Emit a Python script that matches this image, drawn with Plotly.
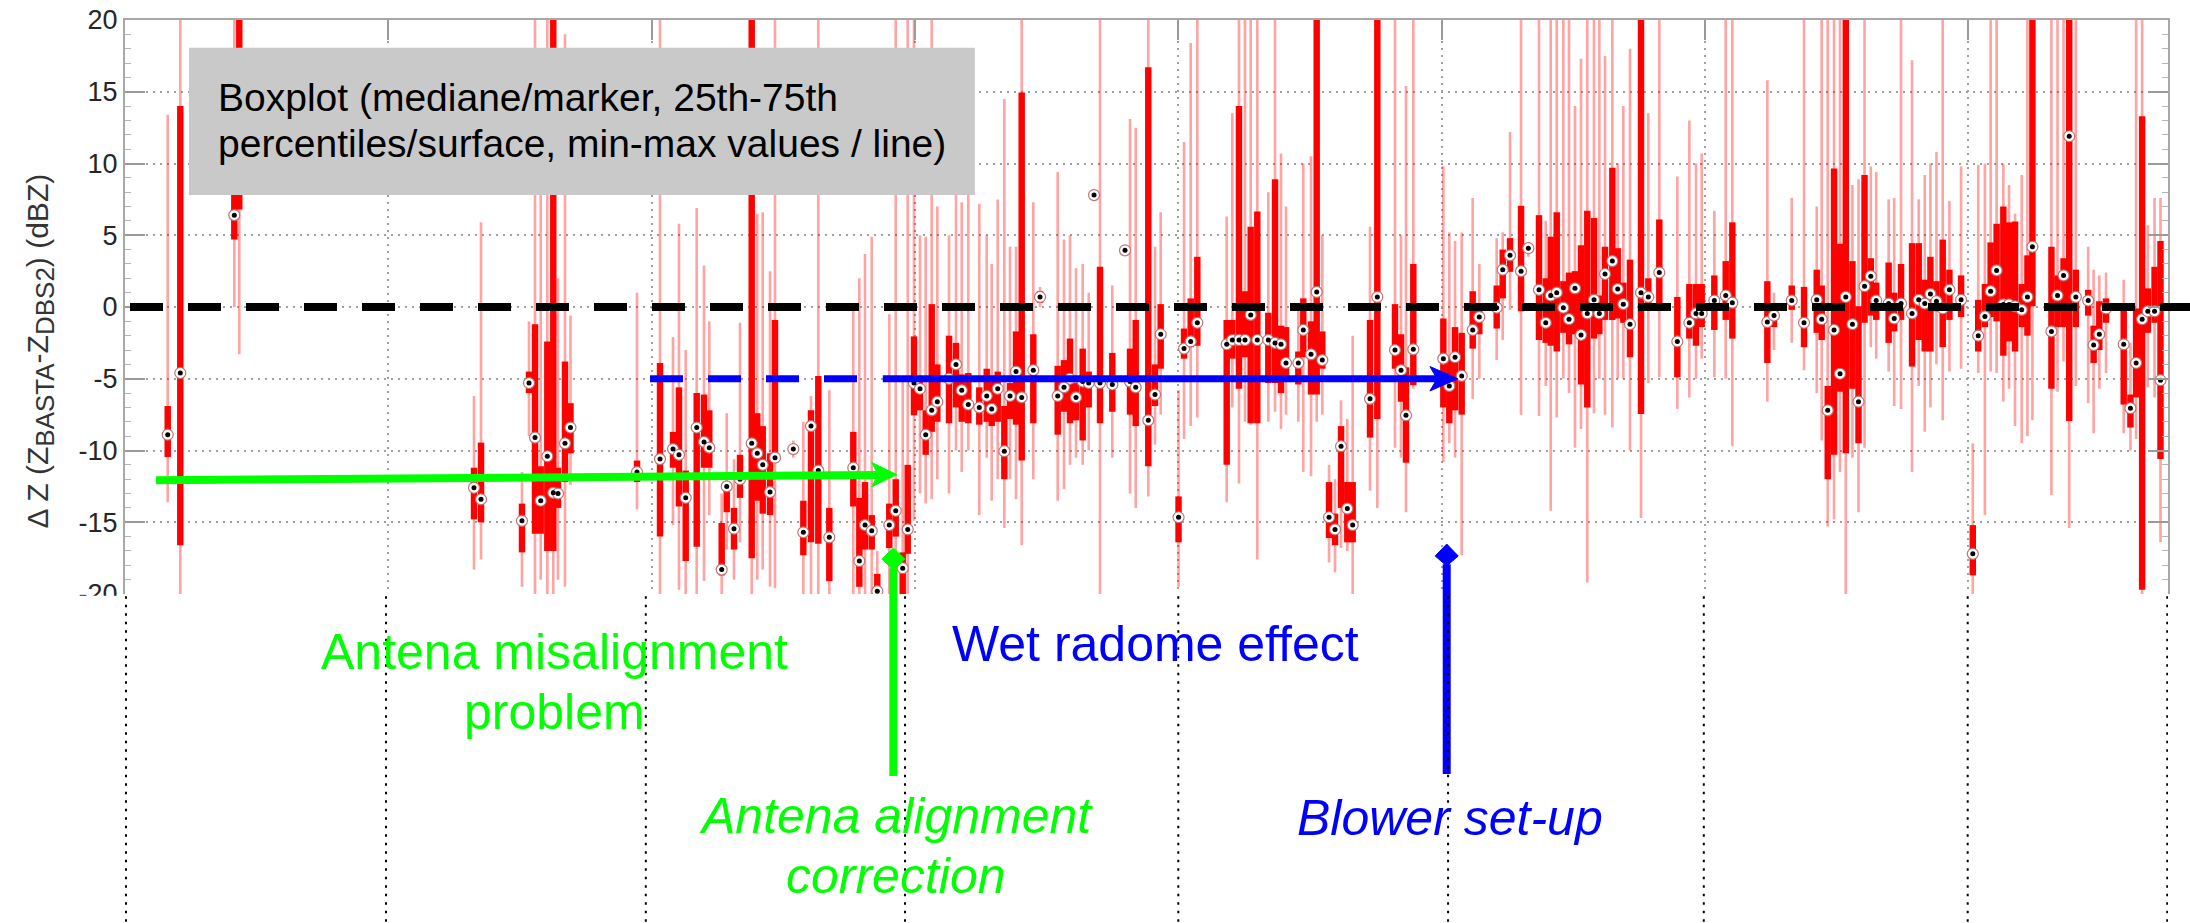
import plotly.graph_objects as go

# ---------------- data (boxplot statistics, dBZ) ----------------
day = [7.30, 9.45, 18.68, 19.53, 59.64, 60.84, 67.84, 69.04, 70.07, 71.04,
       72.17, 73.19, 74.00, 75.19, 76.13, 87.50, 91.43, 93.65, 94.67, 95.82,
       97.70, 98.95, 99.85, 101.97, 102.83, 104.07, 105.10, 107.10, 108.05, 108.98,
       110.23, 111.08, 114.21, 115.92, 117.23, 118.48, 120.36, 124.46, 125.49, 126.46,
       127.61, 128.56, 130.61, 131.71, 132.90, 133.76, 134.83, 135.86, 136.83, 137.86,
       138.82, 140.82, 142.01, 142.99, 144.11, 145.99, 147.26, 148.11, 149.14, 150.27,
       151.24, 152.27, 153.24, 155.22, 156.37, 159.39, 160.47, 161.49, 162.52, 163.66,
       164.69, 165.60, 166.62, 168.72, 170.89, 171.75, 172.72, 174.87, 176.02, 176.99,
       180.04, 180.98, 182.12, 183.25, 188.27, 189.23, 190.37, 191.40, 192.37, 193.50,
       195.38, 196.53, 197.55, 198.41, 200.51, 201.36, 202.68, 203.65, 204.61, 205.76,
       206.78, 207.81, 208.88, 209.80, 212.76, 214.01, 217.03, 218.06, 218.91, 220.16,
       225.29, 226.31, 227.29, 228.43, 230.31, 231.44, 234.41, 235.44, 236.69, 238.57,
       239.82, 241.64, 242.79, 243.64, 244.67, 245.80, 246.77, 247.79, 248.82, 249.89,
       251.04, 251.95, 252.92, 254.17, 255.09, 256.05, 257.19, 259.07, 260.32, 262.20,
       265.28, 267.33, 268.47, 269.44, 271.60, 273.55, 274.68, 280.66, 281.80, 284.83,
       286.93, 289.10, 289.95, 290.98, 292.06, 293.08, 294.07, 295.20, 296.24, 297.27,
       298.34, 299.27, 301.39, 302.34, 303.51, 305.39, 306.53, 307.56, 308.53, 309.56,
       310.63, 311.78, 313.77, 315.77, 316.70, 317.84, 318.82, 319.84, 320.99, 321.96,
       322.99, 324.13, 325.11, 325.96, 329.21, 330.25, 331.28, 332.25, 333.38, 335.49,
       336.42, 337.39, 338.54, 341.56, 342.71, 343.68, 344.71, 345.68, 346.83, 347.85]

median = [-8.9, -4.6, 6.4, 12.0, -12.6, -13.4, -14.9, -5.3, -9.1, -13.5,
          -10.4, -12.95, -13.0, -9.5, -8.4, -11.5, -10.6, -9.9, -10.3, -13.3,
          -8.4, -9.4, -9.8, -18.3, -12.5, -15.45, -12.0, -9.5, -10.2, -11.0,
          -12.9, -10.5, -9.9, -15.7, -8.3, -11.4, -16.05, -11.2, -17.7, -15.2,
          -15.6, -19.8, -15.2, -14.2, -18.2, -15.5, -5.3, -5.7, -8.9, -7.2,
          -6.6, -5.0, -4.0, -5.8, -6.8, -7.0, -6.2, -7.1, -5.7, -10.05,
          -6.2, -4.5, -6.3, -4.4, 0.7, -6.2, -5.6, -5.0, -6.3, -5.2,
          -5.3, 7.8, -5.3, -5.4, 3.95, -5.2, -5.6, -7.9, -6.1, -1.9,
          -14.65, -2.9, -2.4, -1.1, -2.6, -2.3, -2.3, -2.3, -0.55, -2.3,
          -2.3, -2.5, -2.6, -3.9, -3.9, -1.6, -3.3, 1.05, -3.7, -14.65,
          -15.5, -9.7, -14.05, -15.2, -6.4, 0.7, -3.0, -4.4, -7.55, -2.95,
          -3.6, -5.5, -3.5, -4.8, -1.6, -0.7, -0.05, 2.6, 3.6, 2.5,
          4.1, 1.2, -1.1, 0.8, 1.0, -0.05, -0.85, 1.3, -1.95, -0.45,
          0.5, -0.45, 2.3, 3.2, 1.25, 0.2, -1.2, 1.0, 0.7, 2.4,
          -2.4, -1.1, -0.45, -0.45, 0.45, 0.8, 0.3, -1.05, -0.6, 0.45,
          -1.1, 0.5, -0.85, -7.2, -1.6, -4.65, 0.7, -1.2, -6.6, 1.45,
          2.15, 0.45, 0.24, -0.8, 0.24, -0.45, 0.5, 0.24, 0.9, 0.4,
          -0.1, 1.2, 0.5, -17.2, -2.0, -0.66, 1.1, 2.55, 0.18, 0.18,
          0.05, -0.2, 0.7, 4.2, -1.7, 0.8, 2.2, 11.9, 0.7, 0.45,
          -2.65, -1.9, -0.1, -2.6, -7.05, -3.9, -0.85, -0.3, -0.3, -5.1]

p25 = [-10.45, -16.6, 4.7, 6.8, -14.8, -15.0, -17.1, -6.0, -15.8, -15.8,
       -17.0, -17.0, -14.0, -12.2, -10.2, -12.2, -16.0, -11.2, -13.9, -17.7,
       -16.7, -11.2, -11.2, -18.7, -14.3, -16.9, -13.3, -17.5, -13.5, -14.4,
       -14.5, -10.8, -10.2, -17.3, -16.4, -16.5, -19.1, -13.9, -19.5, -16.9,
       -16.9, -21.0, -16.8, -16.0, -21.0, -17.2, -7.55, -7.2, -10.3, -8.7,
       -8.0, -8.1, -7.0, -8.0, -8.1, -8.2, -8.0, -8.3, -8.0, -12.0,
       -7.8, -8.2, -10.7, -8.1, 0.3, -8.9, -7.3, -8.1, -7.9, -9.3,
       -7.0, 7.6, -8.1, -7.3, 3.8, -7.5, -8.3, -11.1, -6.9, -4.3,
       -16.4, -3.6, -2.8, -2.7, -11.0, -3.6, -5.7, -3.5, -8.1, -8.1,
       -5.3, -5.3, -6.0, -5.05, -5.4, -3.5, -6.1, -6.1, -4.3, -16.1,
       -16.6, -14.0, -16.4, -16.4, -9.1, -7.8, -4.3, -6.6, -10.85, -5.45,
       -7.0, -8.1, -7.2, -7.5, -2.9, -1.9, -1.5, 0.6, 2.45, -0.3,
       3.9, -2.3, -2.5, -2.7, -3.1, -1.8, -2.6, -1.9, -5.4, -7.0,
       -2.2, -1.9, -0.9, -0.9, -0.8, -1.1, -3.5, -7.45, 0.2, -0.1,
       -4.9, -2.2, -2.7, -1.4, -1.6, -0.9, -2.2, -3.9, -1.4, -0.2,
       -2.8, -1.8, -2.3, -12.0, -10.3, -5.9, -10.2, -5.7, -9.5, -1.1,
       -0.6, -0.9, -2.5, -1.7, -0.9, -4.15, -2.3, -3.1, -3.1, -0.3,
       -2.8, -0.9, -0.7, -18.7, -3.1, -1.4, -0.7, -1.0, -3.4, -2.4,
       -3.1, -1.4, -2.0, 0.05, -5.7, -1.4, -1.4, -7.95, -1.4, -0.6,
       -3.9, -3.0, -1.1, -6.8, -8.4, -6.3, -19.7, -1.8, -1.1, -10.6]

p75 = [-6.9, 14.0, 12.0, 22.0, -11.2, -9.45, -13.7, -4.5, -1.2, -11.1,
       -2.4, 25.0, -11.2, -3.8, -6.7, -10.7, -3.9, -8.7, -5.6, -11.4,
       -6.0, -6.1, -7.2, -15.05, -12.2, -14.0, -10.3, 25.0, -7.4, -8.3,
       -10.2, -0.9, -9.6, -13.5, -7.2, -4.8, -14.0, -8.7, -13.3, -12.2,
       -14.5, -18.6, -13.7, -12.0, -17.1, -11.0, -2.05, -4.8, -7.2, 0.2,
       -4.0, -2.0, -2.5, -4.7, -4.6, -5.6, -4.3, -5.2, -4.5, -6.9,
       -5.3, -1.7, 14.95, -1.9, 1.1, -4.1, -3.7, -2.2, -5.3, -2.9,
       -4.5, 8.0, 2.8, -3.2, 4.1, -2.9, -0.9, 16.7, -4.0, 0.2,
       -13.2, -1.5, 0.6, 3.5, -0.9, -0.9, 14.0, 1.1, 5.6, 6.65,
       -0.4, 8.9, -1.3, -1.4, -3.1, 0.6, -1.0, 25.0, -1.7, -12.2,
       -14.4, -8.3, -12.2, -12.2, -0.9, 25.0, 0.2, -1.9, -4.2, 3.0,
       -0.8, -3.5, -1.4, -1.8, 1.1, 0.2, 1.5, 4.0, 4.8, 7.05,
       4.3, 6.4, 2.0, 4.9, 6.6, 1.8, 2.4, 2.5, 4.3, 6.7,
       6.2, 0.8, 4.2, 9.7, 4.1, 1.7, 3.3, 25.0, 2.0, 6.1,
       0.7, 1.6, 1.6, 1.6, 2.2, 3.2, 5.9, 1.8, -0.2, 1.5,
       1.4, 2.6, 1.5, -5.5, 9.66, 4.4, 25.0, 3.2, 0.05, 9.2,
       3.4, 1.7, 3.1, 1.0, 3.0, 4.45, 4.45, 1.9, 3.5, 1.8,
       4.7, 2.6, 2.2, -15.2, 0.5, 1.6, 4.5, 5.8, 7.0, 5.9,
       5.95, 1.6, 3.6, 25.0, 4.2, 2.2, 3.4, 25.0, 2.6, 1.2,
       -1.3, 0.4, 0.6, -0.1, -6.1, -0.1, 13.3, 1.3, 2.8, 4.6]

vmin = [-13.6, -25.0, 0.0, -3.3, -18.3, -17.6, -19.5, -9.0, -20.5, -19.0,
        -21.0, -21.0, -19.0, -19.5, -12.4, -14.1, -21.0, -15.2, -19.7, -21.0,
        -21.0, -19.1, -14.5, -20.5, -16.9, -19.0, -16.4, -21.0, -19.0, -18.3,
        -19.5, -19.6, -10.5, -20.5, -20.0, -21.0, -21.0, -21.0, -21.0, -21.0,
        -21.0, -22.0, -21.0, -20.0, -22.0, -21.0, -14.9, -13.0, -13.7, -13.4,
        -12.0, -13.0, -10.0, -11.5, -10.0, -14.5, -10.5, -13.5, -12.0, -15.4,
        -12.0, -13.4, -16.6, -12.0, 0.0, -13.5, -12.7, -11.0, -10.5, -11.0,
        -10.0, 7.4, -20.0, -10.5, 3.6, -13.0, -14.0, -13.2, -9.6, -7.5,
        -19.5, -9.2, -8.3, -7.7, -13.6, -7.0, -12.3, -8.0, -8.2, -17.6,
        -8.0, -7.3, -8.5, -7.5, -8.0, -11.5, -11.8, -8.0, -7.5, -17.8,
        -18.5, -16.8, -17.0, -20.0, -12.8, -14.0, -9.8, -10.5, -14.3, -5.7,
        -10.8, -9.5, -10.5, -17.3, -6.4, -5.0, -3.7, -2.3, -0.2, -7.5,
        3.5, -7.6, -5.5, -14.2, -7.7, -5.0, -6.0, -9.8, -8.5, -19.2,
        -7.4, -5.0, -7.5, -8.4, -5.0, -5.0, -10.0, -14.7, -5.3, -4.9,
        -7.1, -6.3, -5.0, -3.6, -4.9, -5.0, -9.7, -6.6, -3.0, -2.5,
        -4.4, -6.0, -9.3, -15.3, -14.8, -11.5, -21.0, -10.5, -14.3, -9.8,
        -2.8, -3.6, -4.5, -6.9, -7.1, -11.5, -5.5, -8.7, -7.0, -4.0,
        -7.9, -4.5, -4.3, -20.5, -4.6, -14.5, -4.5, -4.6, -6.6, -5.7,
        -8.3, -9.5, -9.0, -7.9, -13.1, -5.9, -3.8, -15.4, -5.5, -6.7,
        -8.8, -5.7, -4.6, -8.8, -10.0, -9.2, -20.5, -5.6, -6.3, -16.4]

vmax = [13.4, 25.0, 20.0, 25.0, -6.2, 5.9, -11.5, -1.0, 25.0, 8.0,
        25.0, 25.0, 2.0, 19.0, -0.6, 1.0, 25.0, -2.1, 5.8, -3.0,
        6.9, 2.9, -1.0, -13.0, -7.4, -10.6, -1.1, 25.0, 6.5, 6.6,
        2.5, 25.0, -9.3, -8.0, -6.2, 25.0, -5.8, 0.0, 2.0, 3.7,
        4.9, -17.0, -0.5, 25.0, -5.0, 25.0, 25.0, 5.0, 4.9, 25.0,
        7.0, 5.0, 8.0, 7.3, 8.0, 7.2, 5.0, 3.0, 7.5, 14.5,
        4.2, 4.2, 25.0, 7.3, 1.4, 9.4, 4.7, 5.0, 2.7, 3.0,
        1.0, 8.2, 25.0, 1.5, 4.3, 13.1, 12.5, 25.0, 4.2, 6.6,
        -5.8, 11.5, 18.4, 20.5, 6.3, 13.5, 25.0, 20.0, 25.0, 25.0,
        8.0, 25.0, 10.7, 7.0, 0.0, 10.0, 10.5, 25.0, 5.0, -11.0,
        -12.0, -6.5, -7.8, -2.0, 5.6, 25.0, 20.0, 5.0, 15.4, 25.0,
        9.8, 5.2, 4.6, 5.2, 7.6, 3.0, 4.8, 5.2, 12.2, 25.0,
        4.5, 25.0, 6.0, 25.0, 25.0, 20.0, 25.0, 14.0, 17.3, 25.0,
        25.0, 25.0, 17.5, 25.0, 10.0, 14.0, 18.0, 25.0, 13.5, 20.0,
        9.1, 13.0, 10.0, 10.7, 6.7, 20.0, 20.0, 15.8, 1.0, 7.6,
        20.0, 7.0, 20.0, 20.0, 25.0, 25.0, 25.0, 8.5, 8.9, 25.0,
        9.8, 9.4, 7.5, 7.6, 20.5, 17.2, 7.5, 9.2, 10.0, 10.8,
        20.0, 7.4, 9.8, -9.5, 9.9, 10.0, 20.0, 20.0, 10.0, 8.5,
        6.5, 9.2, 20.0, 25.0, 25.0, 20.0, 25.0, 25.0, 25.0, 4.2,
        2.6, 2.2, 2.4, 1.9, -2.5, 20.0, 20.0, 5.7, 7.6, 7.6]

y_ticks = [20, 15, 10, 5, 0, -5, -10, -15, -20]
x_grid = [0, 45, 90, 135, 180, 225, 270, 315]

FONT = "Liberation Sans, Arial, sans-serif"

whisk_len = [hi - lo for hi, lo in zip(vmax, vmin)]
box_len = [b - a for a, b in zip(p25, p75)]

fig = go.Figure()
fig.add_trace(go.Bar(x=day, y=whisk_len, base=vmin, width=0.45,
                     marker=dict(color="rgba(255,0,0,0.36)", line=dict(width=0)),
                     hoverinfo="skip", showlegend=False))
fig.add_trace(go.Bar(x=day, y=box_len, base=p25, width=1.1,
                     marker=dict(color="#ff0000", line=dict(width=0)),
                     hoverinfo="skip", showlegend=False))
fig.add_trace(go.Scatter(x=day, y=median, mode="markers", showlegend=False,
                         marker=dict(symbol="circle", size=11, color="white",
                                     line=dict(color="rgba(190,110,110,0.95)", width=1.2))))
fig.add_trace(go.Scatter(x=day, y=median, mode="markers", showlegend=False,
                         marker=dict(symbol="circle", size=5, color="black",
                                     line=dict(width=0))))

# ---------------- decorations ----------------
shapes = []
# white cover under the plot (crops the lowest tick label like the reference)
shapes.append(dict(type="rect", xref="paper", yref="paper", x0=-0.1, x1=1.1,
                   y0=-0.62, y1=-0.003, fillcolor="white", line=dict(width=0),
                   layer="above"))
# legend-like grey box
shapes.append(dict(type="rect", xref="paper", yref="paper", x0=0.0313, x1=0.4160,
                   y0=0.6951, y1=0.9517, fillcolor="#c9c9c9", line=dict(width=0),
                   layer="above"))
# zero reference (black dashed)
shapes.append(dict(type="line", xref="paper", yref="y", x0=0.00245, x1=1.0108,
                   y0=0, y1=0, line=dict(color="black", width=8, dash="33px,25px"),
                   layer="above"))
# wet radome level (blue dashed then solid arrow)
shapes.append(dict(type="line", xref="x", yref="y", x0=89.72, x1=125.2, y0=-5, y1=-5,
                   line=dict(color="#0000ff", width=7, dash="33px,25px"), layer="above"))
shapes.append(dict(type="line", xref="x", yref="y", x0=129.5, x1=224.2, y0=-5, y1=-5,
                   line=dict(color="#0000ff", width=7), layer="above"))
shapes.append(dict(type="path", xref="x", yref="y",
                   path="M223.0,-4.15 L227.8,-5 L223.0,-5.85 L224.2,-5 Z",
                   fillcolor="#0000ff", line=dict(color="#0000ff", width=1), layer="above"))
# misalignment period (green arrow)
shapes.append(dict(type="line", xref="x", yref="y", x0=5.30, x1=128.7, y0=-12.08, y1=-11.70,
                   line=dict(color="#00ff00", width=8), layer="above"))
shapes.append(dict(type="path", xref="x", yref="y",
                   path="M127.6,-10.83 L131.88,-11.68 L127.6,-12.53 L128.7,-11.68 Z",
                   fillcolor="#00ff00", line=dict(color="#00ff00", width=1), layer="above"))
# vertical event arrows
shapes.append(dict(type="line", xref="x", yref="paper", x0=131.3, x1=131.3, y0=-0.3171, y1=0.045,
                   line=dict(color="#00ff00", width=8), layer="above"))
shapes.append(dict(type="path", xref="x", yref="paper",
                   path="M131.3,0.0801 L133.27,0.0610 L131.3,0.0418 L129.33,0.0610 Z",
                   fillcolor="#00ff00", line=dict(color="#00ff00", width=1), layer="above"))
shapes.append(dict(type="line", xref="x", yref="paper", x0=225.87, x1=225.87, y0=-0.3136, y1=0.052,
                   line=dict(color="#0000ff", width=8), layer="above"))
shapes.append(dict(type="path", xref="x", yref="paper",
                   path="M225.87,0.0871 L227.84,0.0662 L225.87,0.0488 L223.90,0.0662 Z",
                   fillcolor="#0000ff", line=dict(color="#0000ff", width=1), layer="above"))
# dotted guides below the plot
for gx in [0.17, 44.6, 89.0, 133.3, 180.0, 226.1, 269.8, 314.9, 349.0]:
    shapes.append(dict(type="line", xref="x", yref="paper", x0=gx, x1=gx, y0=-0.004, y1=-0.58,
                       line=dict(color="black", width=2, dash="2.5px,6px"), layer="above"))

annotations = [
    dict(text="Boxplot (mediane/marker, 25th-75th", x=0.0445, y=0.8653, xanchor="left",
         yanchor="middle", font=dict(size=39, color="black", family=FONT)),
    dict(text="percentiles/surface, min-max values / line)", x=0.0445, y=0.7851, xanchor="left",
         yanchor="middle", font=dict(size=39, color="black", family=FONT)),
    dict(text="Antena misalignment", x=0.2102, y=-0.1007, xanchor="center", yanchor="middle",
         font=dict(size=50, color="#00ff00", family=FONT)),
    dict(text="problem", x=0.2102, y=-0.2064, xanchor="center", yanchor="middle",
         font=dict(size=50, color="#00ff00", family=FONT)),
    dict(text="Wet radome effect", x=0.5044, y=-0.0875, xanchor="center", yanchor="middle",
         font=dict(size=50, color="#0000ff", family=FONT)),
    dict(text="<i>Antena alignment</i>", x=0.3774, y=-0.3864, xanchor="center", yanchor="middle",
         font=dict(size=50, color="#00ff00", family=FONT)),
    dict(text="<i>correction</i>", x=0.3774, y=-0.4910, xanchor="center", yanchor="middle",
         font=dict(size=50, color="#00ff00", family=FONT)),
    dict(text="<i>Blower set-up</i>", x=0.6486, y=-0.3911, xanchor="center", yanchor="middle",
         font=dict(size=50, color="#0000ff", family=FONT)),
    dict(text='Δ Z (Z<sub><span style="font-size:26px">BASTA</span></sub>-Z'
              '<sub><span style="font-size:26px">DBS2</span></sub>) (dBZ)',
         x=-0.0415, y=0.423, xanchor="center", yanchor="middle", textangle=-90,
         font=dict(size=30, color="#333333", family=FONT)),
]
for a in annotations:
    a.update(xref="paper", yref="paper", showarrow=False)

fig.update_layout(
    width=2190, height=923,
    margin=dict(l=125, r=22, t=20, b=329, autoexpand=False),
    paper_bgcolor="white", plot_bgcolor="white",
    barmode="overlay", showlegend=False,
    shapes=shapes, annotations=annotations,
    font=dict(family=FONT),
    xaxis=dict(range=[0, 349.13], side="top", tickvals=x_grid, showticklabels=False,
               ticks="inside", ticklen=20, tickwidth=2, tickcolor="#9a9a9a",
               showline=True, linecolor="#a8a8a8", linewidth=2,
               showgrid=True, gridcolor="#a0a0a0", gridwidth=1.5, griddash="2px,5px",
               zeroline=False),
    yaxis=dict(range=[-20, 20], tickvals=y_ticks, ticktext=[str(v) for v in y_ticks],
               ticks="inside", ticklen=20, tickwidth=2, tickcolor="#9a9a9a",
               showline=True, linecolor="#a8a8a8", linewidth=2, mirror="ticks",
               showgrid=True, gridcolor="#a0a0a0", gridwidth=1.5, griddash="2px,5px",
               zeroline=False, tickfont=dict(size=27, color="#262626", family=FONT),
               minor=dict(ticks="inside", ticklen=6, tickwidth=1, tickcolor="#b5b5b5",
                          dtick=1, showgrid=False)),
)

fig.write_html("out.html")
